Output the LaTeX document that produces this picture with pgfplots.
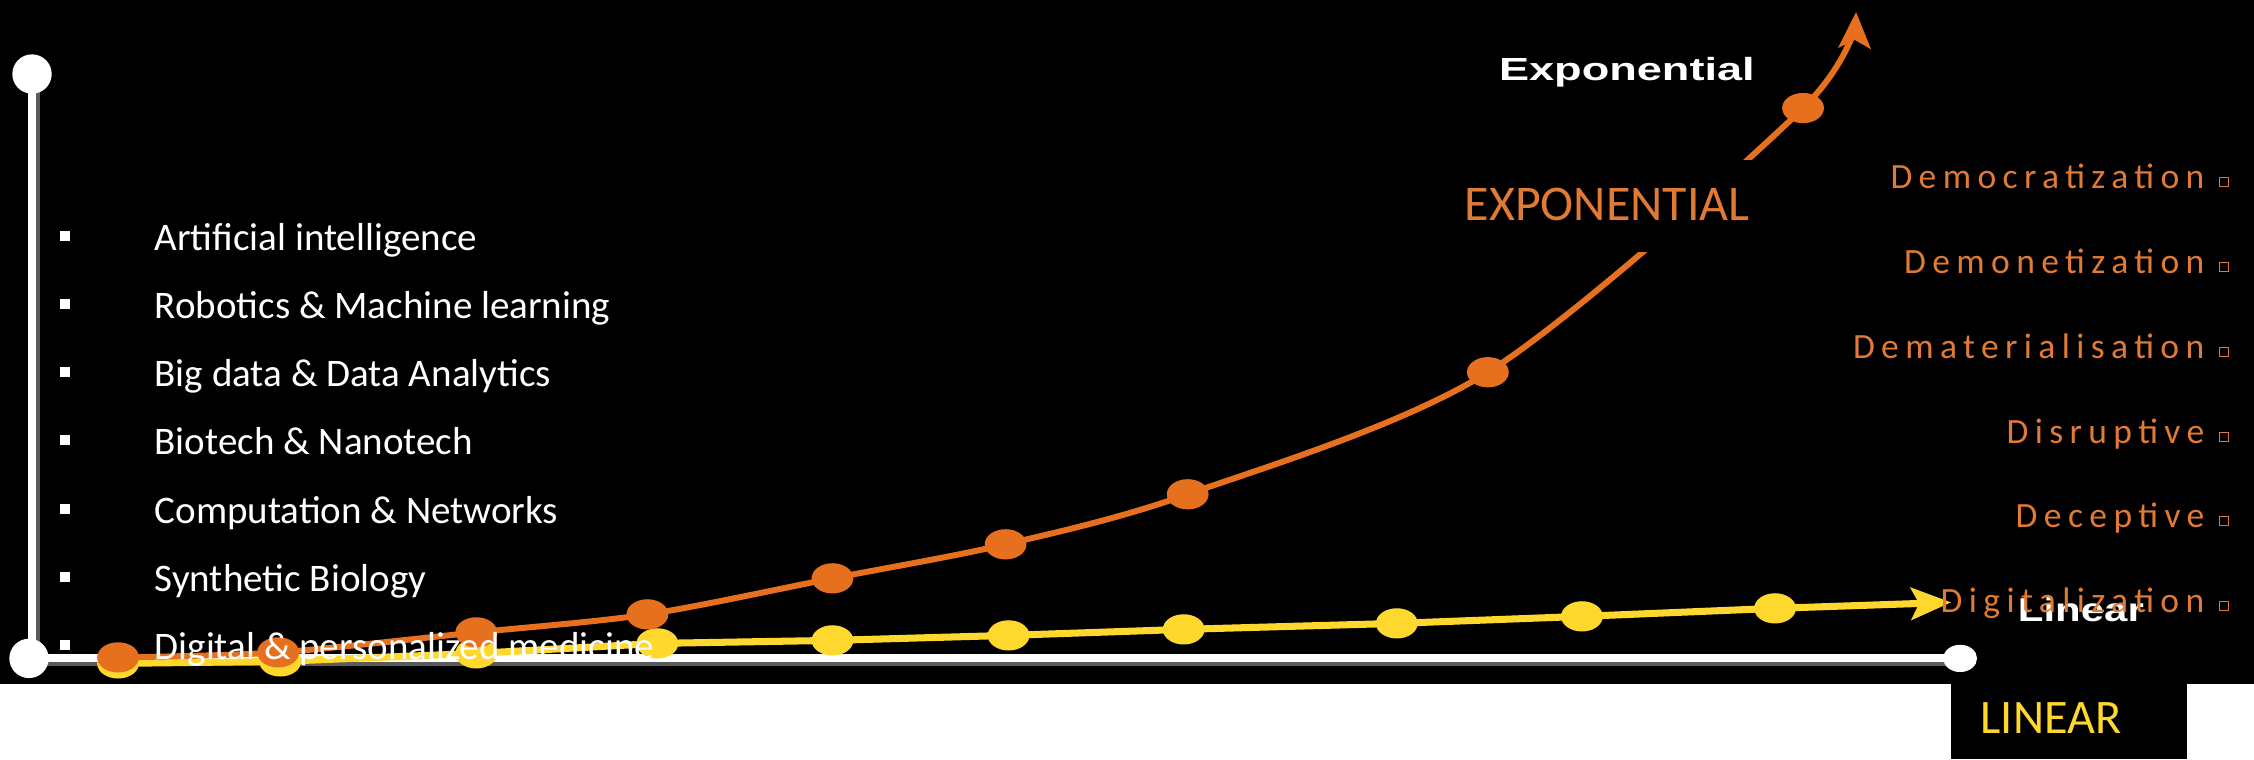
\documentclass[border=0pt]{standalone}
\usepackage{fontspec}
\setmainfont{Carlito}
\newfontfamily\arialfont{Liberation Sans}
\newfontfamily\spacedfont[LetterSpace=18]{Carlito}
\usepackage{pgfplots}
\usepackage{pgfplotstable}
\pgfplotsset{compat=1.18}
\usetikzlibrary{arrows.meta}

\definecolor{expo}{RGB}{230,112,30}
\definecolor{expotext}{RGB}{224,122,53}
\definecolor{lin}{RGB}{255,216,46}
\definecolor{axshadow}{RGB}{90,90,90}

% exponential curve (last row = arrow tip)
\pgfplotstableread{
x y
89 1
249 6
447 26
618 44
803 80
976 114
1158 164
1458 286
1773 550
1826 646
}\expdata

% linear curve (last row = arrow tip)
\pgfplotstableread{
x y
89 -5
251 -3
447 5
628 15
803 18
979 23
1154 29
1367 35
1552 42
1745 50
1921 56
}\lindata

\begin{document}
\begin{tikzpicture}
  % backgrounds (pixel coordinates, origin top left)
  \begin{scope}[x=0.01cm, y=-0.01cm, yshift=7.59cm]
    \fill[white] (0,0) rectangle (2254,759);
    \fill[black] (0,0) rectangle (2254,684);
    \fill[black] (1951,684) rectangle (2187,759);
  \end{scope}

  \begin{axis}[
    at={(0,0)}, anchor=south west,
    scale only axis,
    width=22.54cm, height=7.59cm,
    xmin=-29, xmax=2225,
    ymin=-101, ymax=658,
    hide axis,
    clip=false,
  ]
    % axis frame
    \addplot[axshadow, line width=0.08cm] coordinates {(7,584) (7,-4) (1930,-4)};
    \addplot[white, line width=0.08cm] coordinates {(3,584) (3,0) (1930,0)};
    \addplot[white, only marks, mark=*, mark size=5.4pt] coordinates {(3,584) (0,0)};
    \addplot[white, only marks, mark=*, mark size=4.6pt, mark options={yscale=0.8}] coordinates {(1930,0)};

    % linear
    \addplot[lin, line width=2pt, -{Stealth[length=0.4cm, width=0.32cm, inset=0.08cm]}] table {\lindata};
    \addplot[lin, only marks, mark=*, mark size=4.1pt, mark options={xscale=1.4},
      skip coords between index={10}{11}] table {\lindata};

    % exponential
    \addplot[expo, line width=1.7pt, smooth, -{Stealth[length=0.36cm, width=0.32cm, inset=0.08cm]}] table {\expdata};
    \addplot[expo, only marks, mark=*, mark size=4.1pt, mark options={xscale=1.4},
      skip coords between index={9}{10}] table {\expdata};
  \end{axis}

  % labels (pixel coordinates)
  \begin{scope}[x=0.01cm, y=-0.01cm, yshift=7.59cm]
    % left list
    \foreach \yy in {250,318,386,454,523,591,659}
      \fill[white] (60,\yy-19) rectangle (70,\yy-9);
    \begin{scope}[every node/.style={anchor=base west, text=white, inner sep=0pt,
        font=\fontsize{11.1pt}{13pt}\selectfont}]
      \node at (154,250) {Artificial intelligence};
      \node at (154,318) {Robotics \& Machine learning};
      \node at (154,386) {Big data \& Data Analytics};
      \node at (154,454) {Biotech \& Nanotech};
      \node at (154,523) {Computation \& Networks};
      \node at (154,591) {Synthetic Biology};
      \node at (154,659) {Digital \& personalized medicine};
    \end{scope}

    % curve labels
    \node[anchor=base west, inner sep=0pt, text=white, xscale=1.27,
      font=\arialfont\bfseries\fontsize{9.4pt}{10pt}\selectfont] at (2017,621) {Linear};

    % right list
    \begin{scope}[every node/.style={anchor=base east, text=expotext, inner sep=0pt,
        font=\spacedfont\fontsize{10.1pt}{11pt}\selectfont}]
      \node at (2205,188) {Democratization};
      \node at (2205,273) {Demonetization};
      \node at (2205,358) {Dematerialisation};
      \node at (2205,443) {Disruptive};
      \node at (2205,527) {Deceptive};
      \node at (2205,612) {Digitalization};
    \end{scope}
    \foreach \yy in {188,273,358,443,527,612}
      \draw[expotext, line width=0.25pt] (2219,\yy-11) rectangle (2228,\yy-2);

    % EXPONENTIAL box masks the curve
    \fill[black] (1440,160) rectangle (1775,252);
    \node[anchor=base west, inner sep=0pt, text=expotext,
      font=\fontsize{14.2pt}{16pt}\selectfont] at (1464,220) {EXPONENTIAL};

    \node[anchor=base west, inner sep=0pt, text=white, xscale=1.41,
      font=\arialfont\bfseries\fontsize{9.1pt}{10pt}\selectfont] at (1498,80) {Exponential};

    \node[anchor=base west, inner sep=0pt, text=lin,
      font=\fontsize{13.7pt}{15pt}\selectfont] at (1980,733) {LINEAR};
  \end{scope}
\end{tikzpicture}
\end{document}
